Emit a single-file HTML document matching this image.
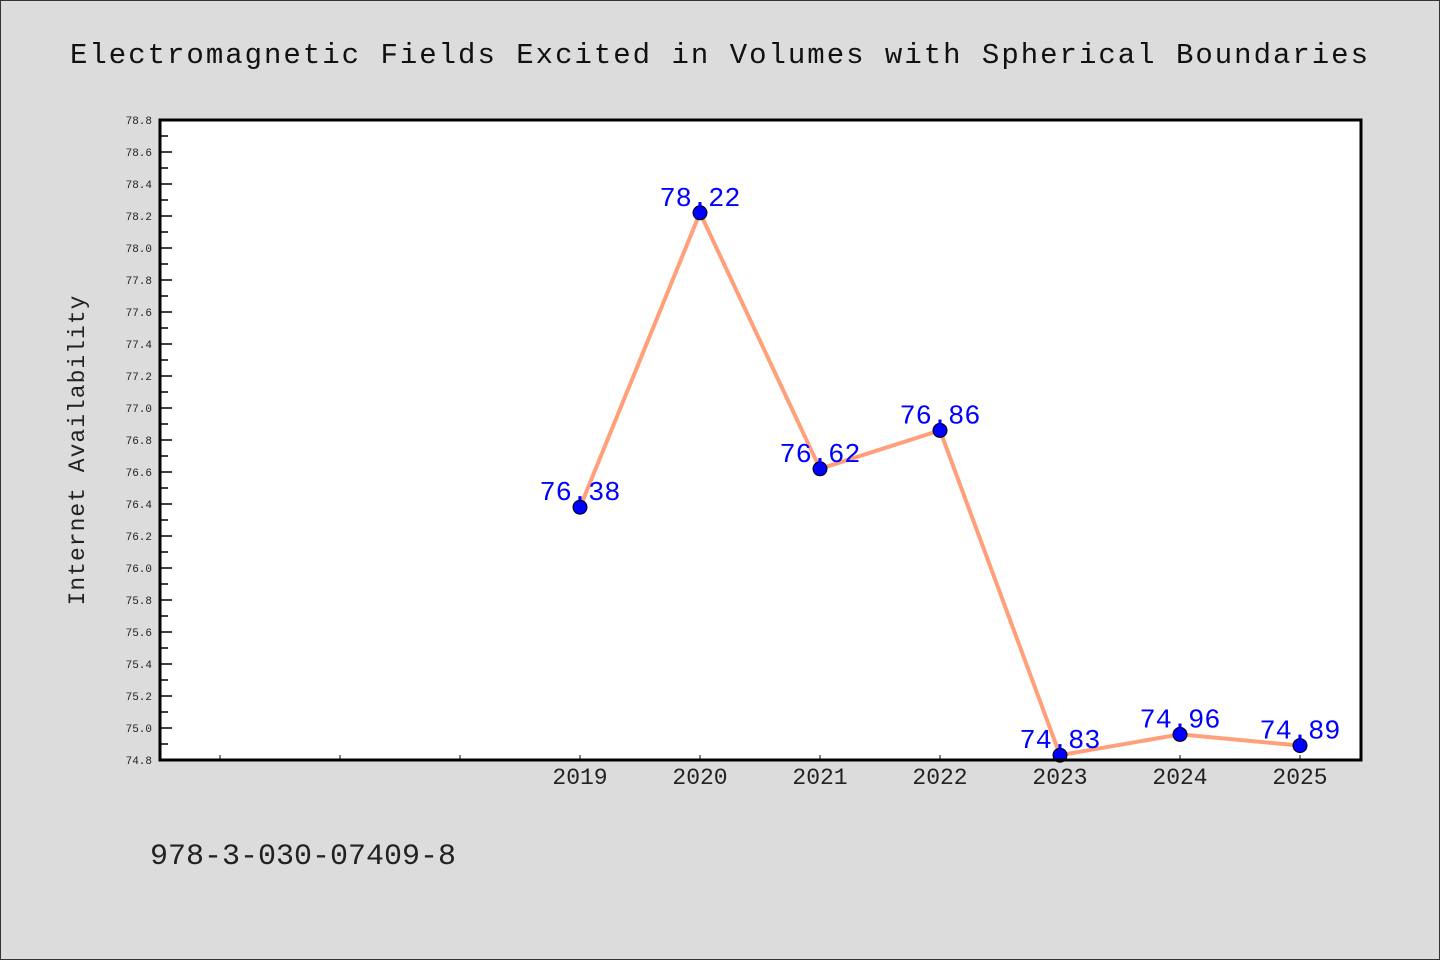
<!DOCTYPE html>
<html><head><meta charset="utf-8"><style>
html,body{margin:0;padding:0;background:#dcdcdc}
svg{display:block}
text{font-family:"Liberation Mono","DejaVu Sans Mono",monospace}
</style></head><body>
<svg id="chart" width="1440" height="960" xmlns="http://www.w3.org/2000/svg">
<rect x="0.5" y="0.5" width="1439" height="959" fill="#dcdcdc" stroke="#333"/>
<text x="720" y="63" text-anchor="middle" font-size="29" fill="#111" letter-spacing="2">Electromagnetic Fields Excited in Volumes with Spherical Boundaries</text>
<rect x="160" y="120" width="1201" height="640" fill="#fff"/>
<g id="yaxis"></g>
<g id="xaxis"></g>
<g id="series"></g>
<rect x="160" y="120" width="1201" height="640" fill="none" stroke="#000" stroke-width="3"/>
<text transform="translate(84,450) rotate(-90)" text-anchor="middle" font-size="23" fill="#222" letter-spacing="1">Internet Availability</text>
<text x="150" y="864" font-size="30" fill="#222" font-family="DejaVu Sans, sans-serif">978-3-030-07409-8</text>
</svg>
<script>
const categories = ["", "", "", "2019", "2020", "2021", "2022", "2023", "2024", "2025"];
const values = [null, null, null, 76.38, 78.22, 76.62, 76.86, 74.83, 74.96, 74.89];
const labels = ["", "", "", "76.38", "78.22", "76.62", "76.86", "74.83", "74.96", "74.89"];
const yTicks = ["74.8","75.0","75.2","75.4","75.6","75.8","76.0","76.2","76.4","76.6","76.8","77.0","77.2","77.4","77.6","77.8","78.0","78.2","78.4","78.6","78.8"];
const yMin = 74.8, yMax = 78.8;
const NS = "http://www.w3.org/2000/svg";
function y(v){ return 760 - (v - yMin) / (yMax - yMin) * 640; }
function x(i){ return 220 + i * 120; }
function mk(tag, attrs, parent){ const e = document.createElementNS(NS, tag); for (const k in attrs) e.setAttribute(k, attrs[k]); parent.appendChild(e); return e; }
const ya = document.getElementById("yaxis");
yTicks.forEach((t, i) => {
  const v = parseFloat(t), yy = y(v);
  const ln = mk("line", {x1:160, x2:172, y1:yy, y2:yy, stroke:"#000", "stroke-width":1.5}, ya);
  
  
  const tx = mk("text", {x:152, y:yy+4, "text-anchor":"end", "font-size":11, fill:"#222", "font-family":"DejaVu Sans, sans-serif"}, ya);
  tx.textContent = t;
  
  
  if (i < yTicks.length - 1) {
    const ym = y(v + 0.1);
    const mn = mk("line", {x1:160, x2:168, y1:ym, y2:ym, stroke:"#000", "stroke-width":1.5}, ya);
    
    
  }
});
const xa = document.getElementById("xaxis");
categories.forEach((c, i) => {
  const tk = mk("line", {x1:x(i), x2:x(i), y1:760, y2:755, stroke:"#000", "stroke-width":1}, xa);
  
  
  if (c) {
    const tx = mk("text", {x:x(i), y:784, "text-anchor":"middle", "font-size":23, fill:"#222", "font-family":"DejaVu Sans, sans-serif"}, xa);
    tx.textContent = c;
    
    
  }
});
const sg = document.getElementById("series");
const pts = values.map((v, i) => v == null ? null : [x(i), y(v)]).filter(p => p);
const pl = mk("polyline", {points: pts.map(p => p.join(",")).join(" "), fill:"none", stroke:"#ffa07a", "stroke-width":4, "stroke-linejoin":"round"}, sg);


values.forEach((v, i) => {
  if (v == null) return;
  const c = mk("circle", {cx:x(i), cy:y(v), r:7, fill:"#0000ff", stroke:"#000", "stroke-width":1}, sg);
  
  
  const t = mk("text", {x:x(i), y:y(v)-7, "text-anchor":"middle", "font-size":27, fill:"#0000ff", "font-family":"DejaVu Sans, sans-serif"}, sg);
  t.textContent = labels[i];
  
  
});
</script>
</body></html>
